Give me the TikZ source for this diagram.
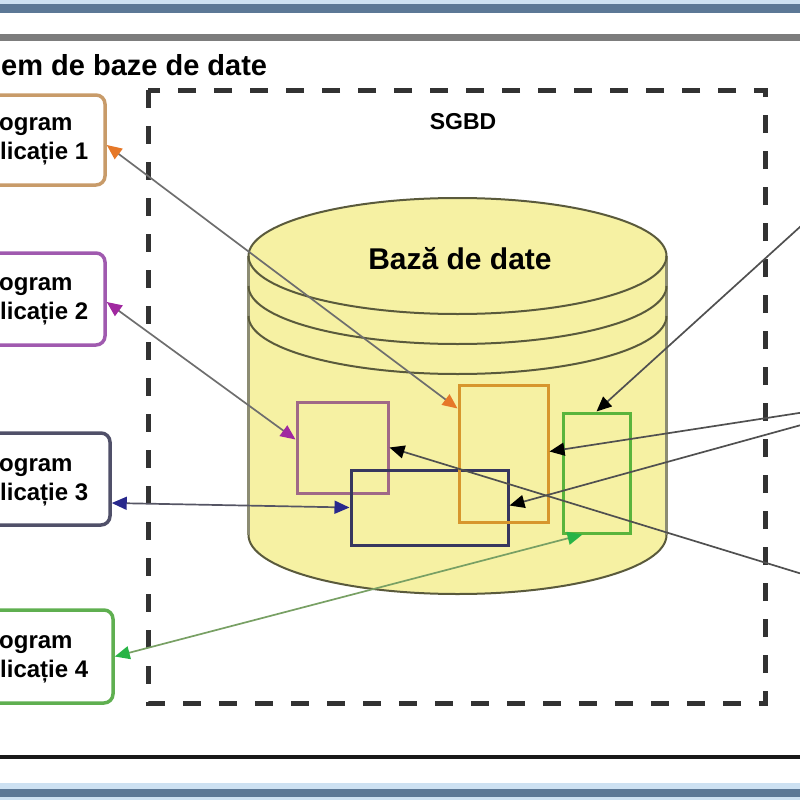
\documentclass[tikz,border=0pt]{standalone}
\usepackage{fontspec}
\setmainfont{Liberation Sans}
\usetikzlibrary{arrows.meta,calc}
\definecolor{barlight}{RGB}{205,225,242}
\definecolor{bardark}{RGB}{92,120,150}
\definecolor{framegray}{RGB}{125,125,125}
\definecolor{cbox1}{RGB}{200,155,105}
\definecolor{cbox2}{RGB}{160,90,175}
\definecolor{cbox3}{RGB}{80,80,105}
\definecolor{cbox4}{RGB}{95,175,80}
\definecolor{cpr}{RGB}{160,105,135}
\definecolor{cnv}{RGB}{55,55,95}
\definecolor{cor}{RGB}{215,150,45}
\definecolor{cgr}{RGB}{90,180,60}
\definecolor{tipO}{RGB}{230,120,40}
\definecolor{tipP}{RGB}{160,40,160}
\definecolor{tipN}{RGB}{40,40,140}
\definecolor{tipG}{RGB}{40,180,70}
\definecolor{linegray}{RGB}{110,110,110}
\definecolor{linegreen}{RGB}{120,160,100}
\definecolor{cylfill}{RGB}{246,241,163}
\definecolor{cylline}{RGB}{90,90,60}
\definecolor{cylside}{RGB}{140,140,115}
\begin{document}
\begin{tikzpicture}[x=1pt,y=-1pt,
  appbox/.style={draw, rectangle, rounded corners=9pt, line width=3.5pt, fill=white, inner sep=0pt},
  apptext/.style={anchor=base west, inner sep=0pt, font=\bfseries\fontsize{24}{29}\selectfont},
  inrect/.style={draw, rectangle, line width=3pt, inner sep=0pt},
  conn/.style={draw=linegray, line width=1.7pt},
  arrO/.style={{Triangle[length=15pt,width=13pt,color=tipO]}-{Triangle[length=15pt,width=13pt,color=tipO]}},
  arrP/.style={{Triangle[length=15pt,width=13pt,color=tipP]}-{Triangle[length=15pt,width=13pt,color=tipP]}},
  arrN/.style={{Triangle[length=15pt,width=13pt,color=tipN]}-{Triangle[length=15pt,width=13pt,color=tipN]}},
  arrG/.style={{Triangle[length=15pt,width=13pt,color=tipG]}-{Triangle[length=15pt,width=13pt,color=tipG]}},
  arrK/.style={-{Triangle[length=15pt,width=13pt,color=black]}},
  cylline/.style={draw=cylline, line width=2pt},
  sgbdline/.style={draw={rgb,255:red,50;green,50;blue,50}, line width=5pt, dash pattern=on 18pt off 18pt}
]
\useasboundingbox (0,0) rectangle (800,800);
\clip (0,0) rectangle (800,800);
% window bars and frame
\fill[barlight] (0,0) rectangle (800,4);
\fill[bardark] (0,4) rectangle (800,13);
\draw[framegray, line width=7pt] (0,38) -- (800,38);
\draw[black!90, line width=4pt] (0,757) -- (800,757);
\fill[barlight] (0,783) rectangle (800,800);
\fill[bardark] (0,789) rectangle (800,797);

\node[anchor=base west, inner sep=0pt, font=\bfseries\fontsize{29}{34}\selectfont] (title) at (1,75) {em de baze de date};

% SGBD dashed area
\draw[sgbdline] (148,90) rectangle (765,703);
\node[anchor=base, inner sep=0pt, font=\bfseries\fontsize{23}{27}\selectfont] (sgbd) at (463,129) {SGBD};

% cylinder
\fill[cylfill] (248.5,256) -- (248.5,535) arc[start angle=180,end angle=0,x radius=209,y radius=59]
  -- (666.5,256) arc[start angle=0,end angle=-180,x radius=209,y radius=58] -- cycle;
\draw[draw=cylside, line width=3pt] (248.5,256) -- (248.5,535);
\draw[draw=cylside, line width=3pt] (666.5,256) -- (666.5,535);
\draw[cylline] (457.5,256) ellipse[x radius=209,y radius=58];
\draw[cylline] (248.5,286) arc[start angle=180,end angle=0,x radius=209,y radius=58];
\draw[cylline] (248.5,316) arc[start angle=180,end angle=0,x radius=209,y radius=58];
\draw[cylline] (248.5,535) arc[start angle=180,end angle=0,x radius=209,y radius=59];
\node[anchor=base, inner sep=0pt, font=\bfseries\fontsize{30}{35}\selectfont] (baza) at (460,269) {Bază de date};

% inner record boxes
\node[inrect, draw=cpr, minimum width=91pt, minimum height=91pt] (rp) at (342.5,447.5) {};
\node[inrect, draw=cnv, minimum width=157pt, minimum height=75pt] (rn) at (429.5,507.5) {};
\node[inrect, draw=cor, minimum width=89pt, minimum height=137pt] (ro) at (503.5,453.5) {};
\node[inrect, draw=cgr, minimum width=67pt, minimum height=120pt] (rg) at (596.5,473) {};

% application boxes
\node[appbox, draw=cbox1, minimum width=154pt, minimum height=90pt] (b1) at (28,140) {};
\node[appbox, draw=cbox2, minimum width=154pt, minimum height=92pt] (b2) at (28,299) {};
\node[appbox, draw=cbox3, minimum width=154pt, minimum height=92pt] (b3) at (33,479) {};
\node[appbox, draw=cbox4, minimum width=154pt, minimum height=93pt] (b4) at (36,656.5) {};
\node[apptext] (t1a) at (-1,130) {ogram};
\node[apptext] (t1b) at (0,159) {licație 1};
\node[apptext] (t2a) at (-1,290) {ogram};
\node[apptext] (t2b) at (0,319) {licație 2};
\node[apptext] (t3a) at (-1,471) {ogram};
\node[apptext] (t3b) at (0,500) {licație 3};
\node[apptext] (t4a) at (-1,648) {ogram};
\node[apptext] (t4b) at (0,677) {licație 4};

% connectors
\draw[conn, arrO] ([yshift=-5pt]b1.east) -- ([yshift=-25pt]ro.north west);
\draw[conn, arrP] ([yshift=-3pt]b2.east) -- ([yshift=8pt]rp.west);
\draw[conn, draw={rgb,255:red,85;green,85;blue,100}, arrN] ([yshift=-24pt]b3.east) -- (rn.west);
\draw[conn, draw=linegreen, arrG] (b4.east) -- ([xshift=-14pt]rg.south);

\coordinate (r1) at (812,216);
\coordinate (r2) at (812,411);
\coordinate (r3) at (812,422);
\coordinate (r4) at (812,577);
\draw[conn, draw={rgb,255:red,80;green,80;blue,80}, arrK] (r1) -- (rg.north);
\draw[conn, draw={rgb,255:red,80;green,80;blue,80}, arrK] (r2) -- ([yshift=2pt]ro.east);
\draw[conn, draw={rgb,255:red,80;green,80;blue,80}, arrK] (r3) -- ([yshift=2pt]rn.east);
\draw[conn, draw={rgb,255:red,80;green,80;blue,80}, arrK] (r4) -- (rp.east);
\end{tikzpicture}
\end{document}
